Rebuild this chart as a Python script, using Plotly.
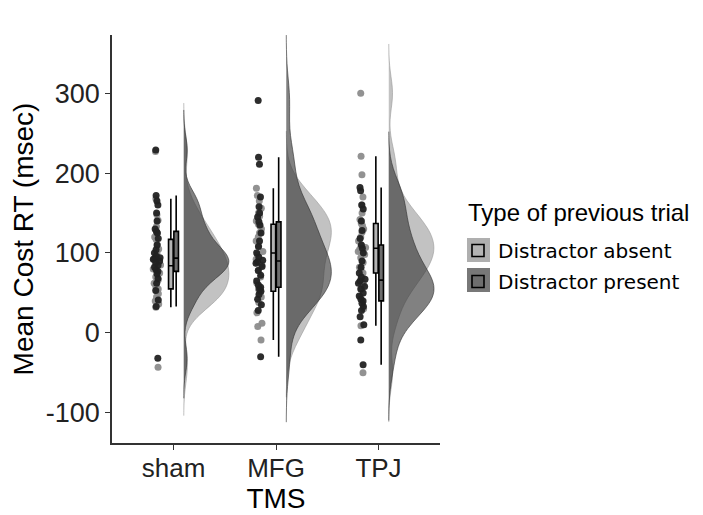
import numpy as np
import plotly.graph_objects as go

# ---- data ----
groups = ["sham", "MFG", "TPJ"]
conditions = ["Distractor absent", "Distractor present"]

sham_absent = [-43, 32, 36, 40, 45, 49, 52, 55, 58, 62, 66, 70, 75, 80, 83, 85, 88, 92, 96, 100,
               105, 110, 117, 120, 125, 133, 141, 148, 168, 227]
sham_present = [-32, 33, 41, 53, 62, 68, 74, 77, 79, 82, 85, 88, 90, 92, 93, 94, 96, 100, 104, 110,
                118, 125, 127, 130, 140, 150, 160, 165, 172, 229]
mfg_absent = [-9, 8, 12, 25, 38, 45, 50, 52, 55, 62, 70, 78, 85, 92, 98, 102, 108, 115, 120, 125,
              130, 133, 136, 140, 146, 150, 156, 165, 172, 181]
mfg_present = [-30, 28, 35, 42, 48, 52, 55, 57, 60, 65, 72, 78, 83, 87, 89, 91, 95, 100, 108, 115,
               125, 135, 139, 145, 150, 158, 170, 211, 220, 291]
tpj_absent = [-50, 9, 30, 45, 55, 62, 70, 75, 78, 82, 88, 94, 98, 102, 105, 107, 110, 115, 120, 126,
              130, 134, 137, 142, 150, 160, 170, 198, 221, 300]
tpj_present = [-40, -9, 10, 20, 28, 33, 37, 40, 42, 46, 50, 55, 58, 62, 65, 67, 70, 75, 82, 90,
               100, 106, 110, 118, 128, 140, 155, 160, 178, 182]

y_ticks = [-100, 0, 100, 200, 300]

data = {
    ("sham", "Distractor absent"): sham_absent,
    ("sham", "Distractor present"): sham_present,
    ("MFG", "Distractor absent"): mfg_absent,
    ("MFG", "Distractor present"): mfg_present,
    ("TPJ", "Distractor absent"): tpj_absent,
    ("TPJ", "Distractor present"): tpj_present,
}

# ---- styles ----
violin_fill = {"Distractor absent": "rgba(153,153,153,0.6)", "Distractor present": "rgba(51,51,51,0.62)"}
box_fill = {"Distractor absent": "rgb(180,180,180)", "Distractor present": "rgb(110,110,110)"}
point_col = {"Distractor absent": "rgba(140,140,140,0.95)", "Distractor present": "rgba(34,34,34,0.95)"}
key_bg = {"Distractor absent": "rgb(175,175,175)", "Distractor present": "rgb(120,120,120)"}
box_off = {"Distractor absent": -0.026, "Distractor present": 0.026}


def nrd0(v):
    v = np.asarray(v, float)
    q1, q3 = np.percentile(v, [25, 75])
    return 0.9 * min(v.std(ddof=1), (q3 - q1) / 1.34) * len(v) ** -0.2


fig = go.Figure()

# half violins (clouds)
for gi, g in enumerate(groups):
    for c in conditions:
        vals = data[(g, c)]
        bw = nrd0(vals)
        fig.add_trace(go.Violin(
            x0=gi + 0.1, y=vals, side="positive", width=0.88,
            bandwidth=bw, spanmode="manual", span=[min(vals) - 3 * bw, max(vals) + 3 * bw],
            scalemode="count", scalegroup="all",
            points=False, box_visible=False, meanline_visible=False,
            fillcolor=violin_fill[c], line=dict(color=violin_fill[c], width=1),
            showlegend=False, hoverinfo="skip", orientation="v",
        ))

# rain (jittered points)
for gi, g in enumerate(groups):
    for c in conditions:
        vals = data[(g, c)]
        fig.add_trace(go.Box(
            x0=gi - 0.16, y=vals, boxpoints="all", jitter=1, pointpos=0, width=0.08,
            fillcolor="rgba(0,0,0,0)", line=dict(width=0, color="rgba(0,0,0,0)"),
            marker=dict(color=point_col[c], size=7, line=dict(width=0)),
            showlegend=False, hoverinfo="y",
        ))

# boxplots (Tukey whiskers; outlier markers hidden since the points are shown as rain)
for gi, g in enumerate(groups):
    for c in conditions:
        vals = data[(g, c)]
        fig.add_trace(go.Box(
            x0=gi + box_off[c], y=vals, boxpoints="outliers", width=0.045, whiskerwidth=0,
            marker=dict(size=0.1, opacity=0, color="rgba(0,0,0,0)"),
            fillcolor=box_fill[c], line=dict(color="black", width=1.6),
            name=c, legendgroup=c, showlegend=(gi == 0),
        ))

# legend key backgrounds (grey squares as in the reference legend)
for i, c in enumerate(conditions):
    fig.add_shape(type="rect", xref="paper", yref="paper",
                  x0=(467 - 112) / 328, x1=(490 - 112) / 328,
                  y0=(443 - (262 + 30 * i)) / 408, y1=(443 - (238 + 30 * i)) / 408,
                  fillcolor=key_bg[c], line=dict(width=0), layer="below")

fig.add_annotation(text="Type of previous trial", xref="paper", yref="paper",
                   x=(466 - 112) / 328, y=(443 - 212) / 408, xanchor="left", yanchor="middle",
                   showarrow=False, font=dict(family="Liberation Sans, Arial", size=24, color="black"))

fig.update_layout(
    width=695, height=507,
    margin=dict(l=104, r=263, t=27, b=72),
    paper_bgcolor="white", plot_bgcolor="white",
    violinmode="overlay", boxmode="overlay",
    font=dict(family="Liberation Sans, Arial, sans-serif", color="black"),
    legend=dict(
        font=dict(family="DejaVu Sans", size=20, color="black"),
        x=(458 - 112) / 328, xanchor="left", y=(443 - 231) / 408, yanchor="top",
        bgcolor="rgba(0,0,0,0)", tracegroupgap=2,
    ),
)
fig.update_xaxes(
    range=[-0.6, 2.6], tickmode="array", tickvals=[0, 1, 2], ticktext=groups,
    showline=True, linecolor="#333", linewidth=1.5, ticks="outside", ticklen=5, tickcolor="#333",
    showgrid=False, zeroline=False, tickfont=dict(size=26, color="#222"), automargin=False,
    ticklabelstandoff=-4,
    title=dict(text="TMS", font=dict(size=28), standoff=4),
)
fig.update_yaxes(
    range=[-138, 373], tickmode="array", tickvals=y_ticks, ticktext=[str(t) for t in y_ticks],
    showline=True, linecolor="#333", linewidth=1.5, ticks="outside", ticklen=5, tickcolor="#333",
    showgrid=False, zeroline=False, tickfont=dict(size=27, color="#222"), automargin=False,
    ticklabelstandoff=0,
    title=dict(text="Mean Cost RT (msec)", font=dict(size=28), standoff=4),
)

fig.write_html("out.html")
